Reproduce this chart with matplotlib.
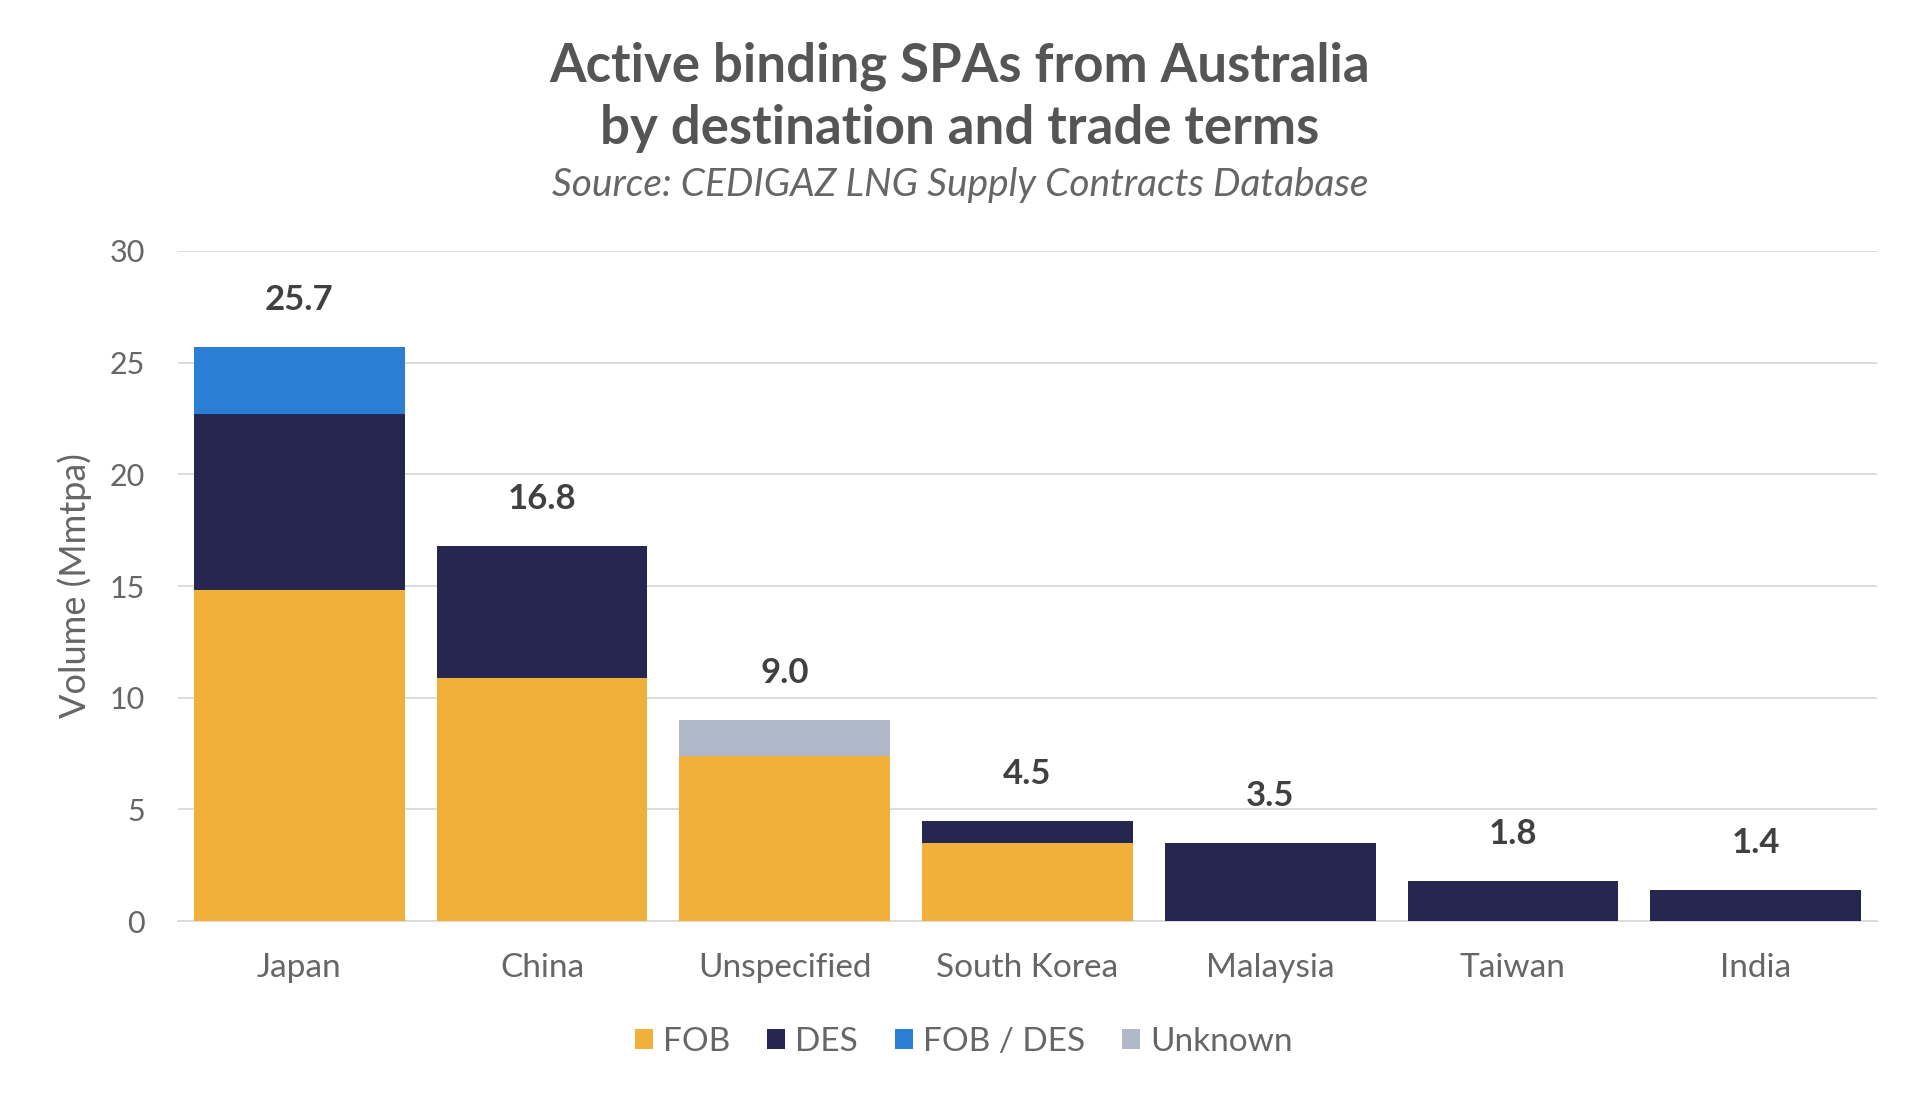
import matplotlib
matplotlib.use("Agg")
import matplotlib.pyplot as plt
import numpy as np
from matplotlib.patches import Patch

categories = ["Japan", "China", "Unspecified", "South Korea", "Malaysia", "Taiwan", "India"]
fob = [14.8, 10.9, 7.4, 3.5, 0.0, 0.0, 0.0]
des = [7.9, 5.9, 0.0, 1.0, 3.5, 1.8, 1.4]
fob_des = [3.0, 0.0, 0.0, 0.0, 0.0, 0.0, 0.0]
unknown = [0.0, 0.0, 1.6, 0.0, 0.0, 0.0, 0.0]
totals = [25.7, 16.8, 9.0, 4.5, 3.5, 1.8, 1.4]
series_names = ["FOB", "DES", "FOB / DES", "Unknown"]
colors = ["#F0B03A", "#252751", "#2A7FD5", "#AEB8C8"]
yticks = [0, 5, 10, 15, 20, 25, 30]

plt.rcParams['font.family'] = ['Lato', 'DejaVu Sans']

fig = plt.figure(figsize=(19.2, 10.97), dpi=100)
ax = fig.add_axes([0.0927, 0.1604, 0.8849, 0.6108])

x = np.arange(len(categories))
w = 0.868
bottom = np.zeros(len(categories))
for vals, c in zip([fob, des, fob_des, unknown], colors):
    v = np.array(vals)
    ax.bar(x, v, w, bottom=bottom, color=c, zorder=3, linewidth=0)
    bottom += v

for xi, t in zip(x, totals):
    ax.annotate(f"{t:.1f}", (xi, t), xytext=(0, 22), textcoords="offset points",
                ha="center", va="bottom", fontsize=25, fontweight="bold", color="#404040")

ax.set_xlim(-0.5, len(categories) - 0.5)
ax.set_ylim(0, 30)
ax.set_yticks(yticks)
ax.set_xticks(x)
ax.set_xticklabels(categories)
ax.grid(axis="y", color="#D9D9D9", linewidth=1.3, zorder=0)
for s in ["top", "right", "left"]:
    ax.spines[s].set_visible(False)
ax.spines["bottom"].set_color("#D9D9D9")
ax.spines["bottom"].set_linewidth(1.3)
ax.tick_params(axis="both", length=0, colors="#666666")
ax.tick_params(axis="y", labelsize=22, pad=24)
ax.tick_params(axis="x", labelsize=24, pad=23)
ax.set_ylabel("Volume (Mmtpa)", fontsize=26, color="#666666")
ax.yaxis.set_label_coords(-0.0506, 0.5)

fig.text(0.5, 0.9400, "Active binding SPAs from Australia", ha="center", va="center",
         fontsize=38, fontweight="bold", color="#555555")
fig.text(0.5, 0.8830, "by destination and trade terms", ha="center", va="center",
         fontsize=38, fontweight="bold", color="#555555")
fig.text(0.5, 0.8310, "Source: CEDIGAZ LNG Supply Contracts Database", ha="center", va="center",
         fontsize=28, fontstyle="italic", color="#666666")

handles = [Patch(facecolor=c, label=n) for c, n in zip(colors, series_names)]
leg = fig.legend(handles=handles, loc="center", bbox_to_anchor=(0.502, 0.05), ncol=4,
                 frameon=False, fontsize=24, handlelength=0.55, handleheight=0.55,
                 handletextpad=0.3, columnspacing=1.1, labelcolor="#666666")

fig.savefig("out.png", dpi=100)
